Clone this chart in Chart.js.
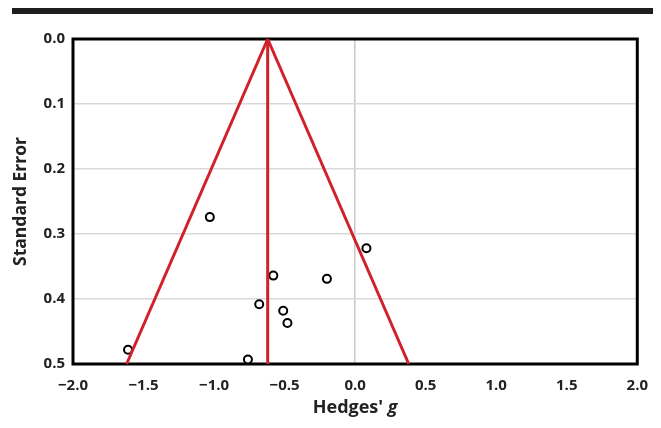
<!DOCTYPE html>
<html>
<head>
<meta charset="utf-8">
<script src="https://cdn.jsdelivr.net/npm/chart.js@4"></script>
<style>
  html, body { margin: 0; padding: 0; background: #fff; }
  #wrap { position: relative; width: 661px; height: 428px; }
  #bar { position: absolute; left: 12px; top: 8px; width: 641px; height: 6px; background: #1e1e1e; }
  canvas { position: absolute; left: 0; top: 0; }
</style>
</head>
<body>
<div id="wrap">
  <canvas id="c" width="661" height="428"></canvas>
  <div id="bar"></div>
</div>
<script>
// Study effects (Hedges' g) and their standard errors
const studyG  = [-1.03, 0.08, -0.58, -0.20, -0.68, -0.51, -0.48, -1.61, -0.76];
const studySE = [0.274, 0.322, 0.364, 0.369, 0.408, 0.418, 0.437, 0.478, 0.493];
// Pooled effect and funnel limits
const pooledG = -0.62;
const funnelSE = [0.0, 0.5];
const funnelLeftG = [-0.62, -1.62];
const funnelRightG = [-0.62, 0.38];
const xTicks = [-2.0, -1.5, -1.0, -0.5, 0.0, 0.5, 1.0, 1.5, 2.0];
const yTicks = [0.0, 0.1, 0.2, 0.3, 0.4, 0.5];

const red = '#d0202a';
const textColor = '#222222';
const FONT = "'Open Sans', 'DejaVu Sans', sans-serif";

const boxPlugin = {
  id: 'box',
  beforeDatasetsDraw(chart) {
    const a = chart.chartArea, ctx = chart.ctx;
    ctx.save();
    ctx.strokeStyle = '#000';
    ctx.lineWidth = 3;
    ctx.strokeRect(a.left, a.top, a.right - a.left, a.bottom - a.top);
    ctx.restore();
  }
};

const xTitlePlugin = {
  id: 'xTitle',
  afterDraw(chart) {
    const a = chart.chartArea, ctx = chart.ctx;
    ctx.save();
    const f1 = "bold 18px " + FONT;
    const f2 = "italic bold 18px " + FONT;
    const t1 = "Hedges' ", t2 = "g";
    ctx.font = f1; const w1 = ctx.measureText(t1).width;
    ctx.font = f2; const w2 = ctx.measureText(t2).width;
    const cx = (a.left + a.right) / 2;
    const x0 = cx - (w1 + w2) / 2;
    const y = 408;
    ctx.fillStyle = textColor;
    ctx.textBaseline = 'middle';
    ctx.textAlign = 'left';
    ctx.font = f1; ctx.fillText(t1, x0, y);
    ctx.font = f2; ctx.fillText(t2, x0 + w1, y);
    ctx.restore();
  }
};

const lineDs = (xs, ys) => ({
  type: 'scatter',
  data: xs.map((x, i) => ({ x: x, y: ys[i] })),
  showLine: true,
  borderColor: red,
  borderWidth: 3,
  pointRadius: 0,
  fill: false,
  clip: false
});

new Chart(document.getElementById('c'), {
  type: 'scatter',
  data: {
    datasets: [
      lineDs(funnelLeftG, funnelSE),
      lineDs(funnelRightG, funnelSE),
      lineDs([pooledG, pooledG], funnelSE),
      {
        type: 'scatter',
        data: studyG.map((g, i) => ({ x: g, y: studySE[i] })),
        pointRadius: 4,
        pointBorderWidth: 2,
        pointBorderColor: '#000',
        pointBackgroundColor: '#fff',
        clip: false
      }
    ]
  },
  options: {
    responsive: false,
    animation: false,
    events: [],
    layout: { padding: { top: 39, right: 23, left: 0, bottom: 0 } },
    plugins: { legend: { display: false }, tooltip: { enabled: false } },
    scales: {
      x: {
        type: 'linear',
        min: -2, max: 2,
        afterBuildTicks: s => { s.ticks = xTicks.map(v => ({ value: v })); },
        afterFit: s => { s.height = 64; },
        border: { display: false },
        grid: {
          drawTicks: false,
          color: ctx => (ctx.tick && ctx.tick.value === 0 ? '#c8c8c8' : 'rgba(0,0,0,0)'),
          lineWidth: 1.5
        },
        ticks: {
          padding: 13,
          color: textColor,
          font: { family: FONT, size: 15, weight: 'bold' },
          callback: v => Number(v).toFixed(1).replace('-', '\u2212')
        }
      },
      y: {
        type: 'linear',
        reverse: true,
        min: 0, max: 0.5,
        afterBuildTicks: s => { s.ticks = yTicks.map(v => ({ value: v })); },
        afterFit: s => { s.width = 73; },
        border: { display: false },
        grid: { drawTicks: false, color: '#d9d9d9', lineWidth: 1.5 },
        ticks: {
          padding: 8,
          color: textColor,
          font: { family: FONT, size: 15, weight: 'bold' },
          callback: v => Number(v).toFixed(1)
        },
        title: {
          display: true,
          text: 'Standard Error',
          color: textColor,
          font: { family: FONT, size: 17.5, weight: 'bold' },
          padding: { top: 11, bottom: 0 }
        }
      }
    }
  },
  plugins: [boxPlugin, xTitlePlugin]
});
</script>
</body>
</html>
